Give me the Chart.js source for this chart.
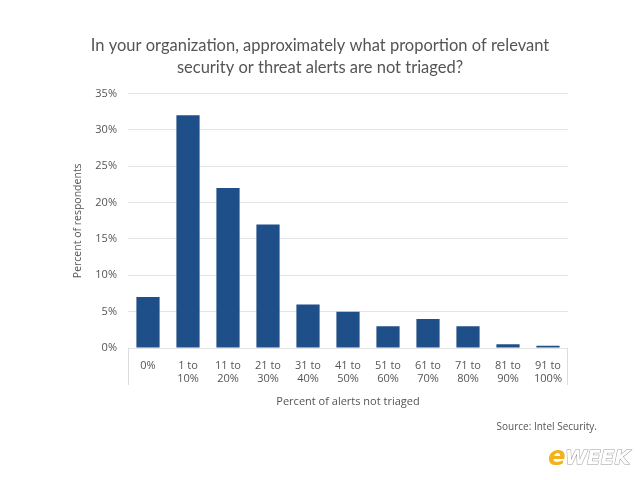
<!DOCTYPE html>
<html>
<head>
<meta charset="utf-8">
<script src="https://cdn.jsdelivr.net/npm/chart.js@4.4.0/dist/chart.umd.min.js"></script>
<style>
  html, body { margin: 0; padding: 0; background: #fff; }
  #wrap { width: 640px; height: 480px; position: relative; }
</style>
</head>
<body>
<div id="wrap"><canvas id="alertsChart"></canvas></div>
<script>
const categories = [['0%'], ['1 to', '10%'], ['11 to', '20%'], ['21 to', '30%'], ['31 to', '40%'],
    ['41 to', '50%'], ['51 to', '60%'], ['61 to', '70%'], ['71 to', '80%'], ['81 to', '90%'], ['91 to', '100%']];
const respondents = [7, 32, 22, 17, 6, 5, 3, 4, 3, 0.5, 0.3];
const yTicks = [0, 5, 10, 15, 20, 25, 30, 35];

const chartTitle = ['In your organization, approximately what proportion of relevant', 'security or threat alerts are not triaged?'];
const sourceText = 'Source: Intel Security.';

const fontFamily = '"Open Sans", "Noto Sans", sans-serif';

// box round the category labels, plus source line and logo
const footerPlugin = {
    id: 'footer',
    afterDraw(chart) {
        const ctx = chart.ctx;
        const area = chart.chartArea;
        ctx.save();
        ctx.strokeStyle = '#dcdcdc';
        ctx.lineWidth = 1;
        ctx.beginPath();
        ctx.moveTo(area.left + 0.5, area.bottom);
        ctx.lineTo(area.left + 0.5, area.bottom + 37);
        ctx.moveTo(area.right - 0.5, area.bottom);
        ctx.lineTo(area.right - 0.5, area.bottom + 37);
        ctx.stroke();

        ctx.fillStyle = '#555';
        ctx.font = '10px ' + fontFamily;
        ctx.textAlign = 'right';
        ctx.textBaseline = 'middle';
        ctx.fillText(sourceText, 597, 427);

        ctx.font = 'italic bold 26px "DejaVu Sans", sans-serif';
        ctx.textAlign = 'left';
        ctx.fillStyle = '#f2b21c';
        ctx.fillText('e', 548, 458);
        ctx.fillStyle = '#ffffff';
        ctx.strokeStyle = '#9a9a9a';
        ctx.font = 'italic bold 20px "DejaVu Sans", sans-serif';
        ctx.strokeText('WEEK', 565, 459);
        ctx.fillText('WEEK', 565, 459);
        ctx.restore();
    }
};

document.addEventListener('DOMContentLoaded', function () {
    const ctx = document.getElementById('alertsChart').getContext('2d');
    new Chart(ctx, {
        type: 'bar',
        data: {
            labels: categories,
            datasets: [{
                label: 'Percent of respondents',
                data: respondents,
                backgroundColor: '#1f4f88',
                barPercentage: 0.58,
                categoryPercentage: 1
            }]
        },
        options: {
            responsive: true,
            maintainAspectRatio: false,
            animation: false,
            layout: { padding: { left: 72, right: 72, top: 0, bottom: 72 } },
            plugins: {
                legend: { display: false },
                tooltip: { enabled: false },
                title: {
                    display: true,
                    text: chartTitle,
                    color: '#555',
                    font: { family: 'Lato, "Open Sans", sans-serif', size: 16.5, weight: 'normal', lineHeight: 1.38 },
                    padding: { top: 34, bottom: 14 }
                }
            },
            scales: {
                y: {
                    min: 0,
                    max: 35,
                    afterBuildTicks(scale) {
                        scale.ticks = yTicks.map(v => ({ value: v }));
                    },
                    afterFit(scale) { scale.width = 56; },
                    border: { display: false },
                    grid: { color: '#e4e4e4', drawTicks: false },
                    ticks: {
                        color: '#555',
                        padding: 11,
                        font: { family: fontFamily, size: 11 },
                        callback: v => v + '%'
                    },
                    title: {
                        display: true,
                        text: 'Percent of respondents',
                        color: '#555',
                        font: { family: fontFamily, size: 10.5 },
                        padding: { top: 0, bottom: 4 }
                    }
                },
                x: {
                    offset: true,
                    afterFit(scale) { scale.height = 60; },
                    border: { display: false },
                    grid: { display: false },
                    ticks: {
                        color: '#555',
                        padding: 3,
                        maxRotation: 0,
                        autoSkip: false,
                        font: { family: fontFamily, size: 11, lineHeight: 1.2 }
                    },
                    title: {
                        display: true,
                        text: 'Percent of alerts not triaged',
                        color: '#555',
                        font: { family: fontFamily, size: 11 },
                        padding: { top: 12, bottom: 0 }
                    }
                }
            }
        },
        plugins: [footerPlugin]
    });
});
</script>
</body>
</html>
